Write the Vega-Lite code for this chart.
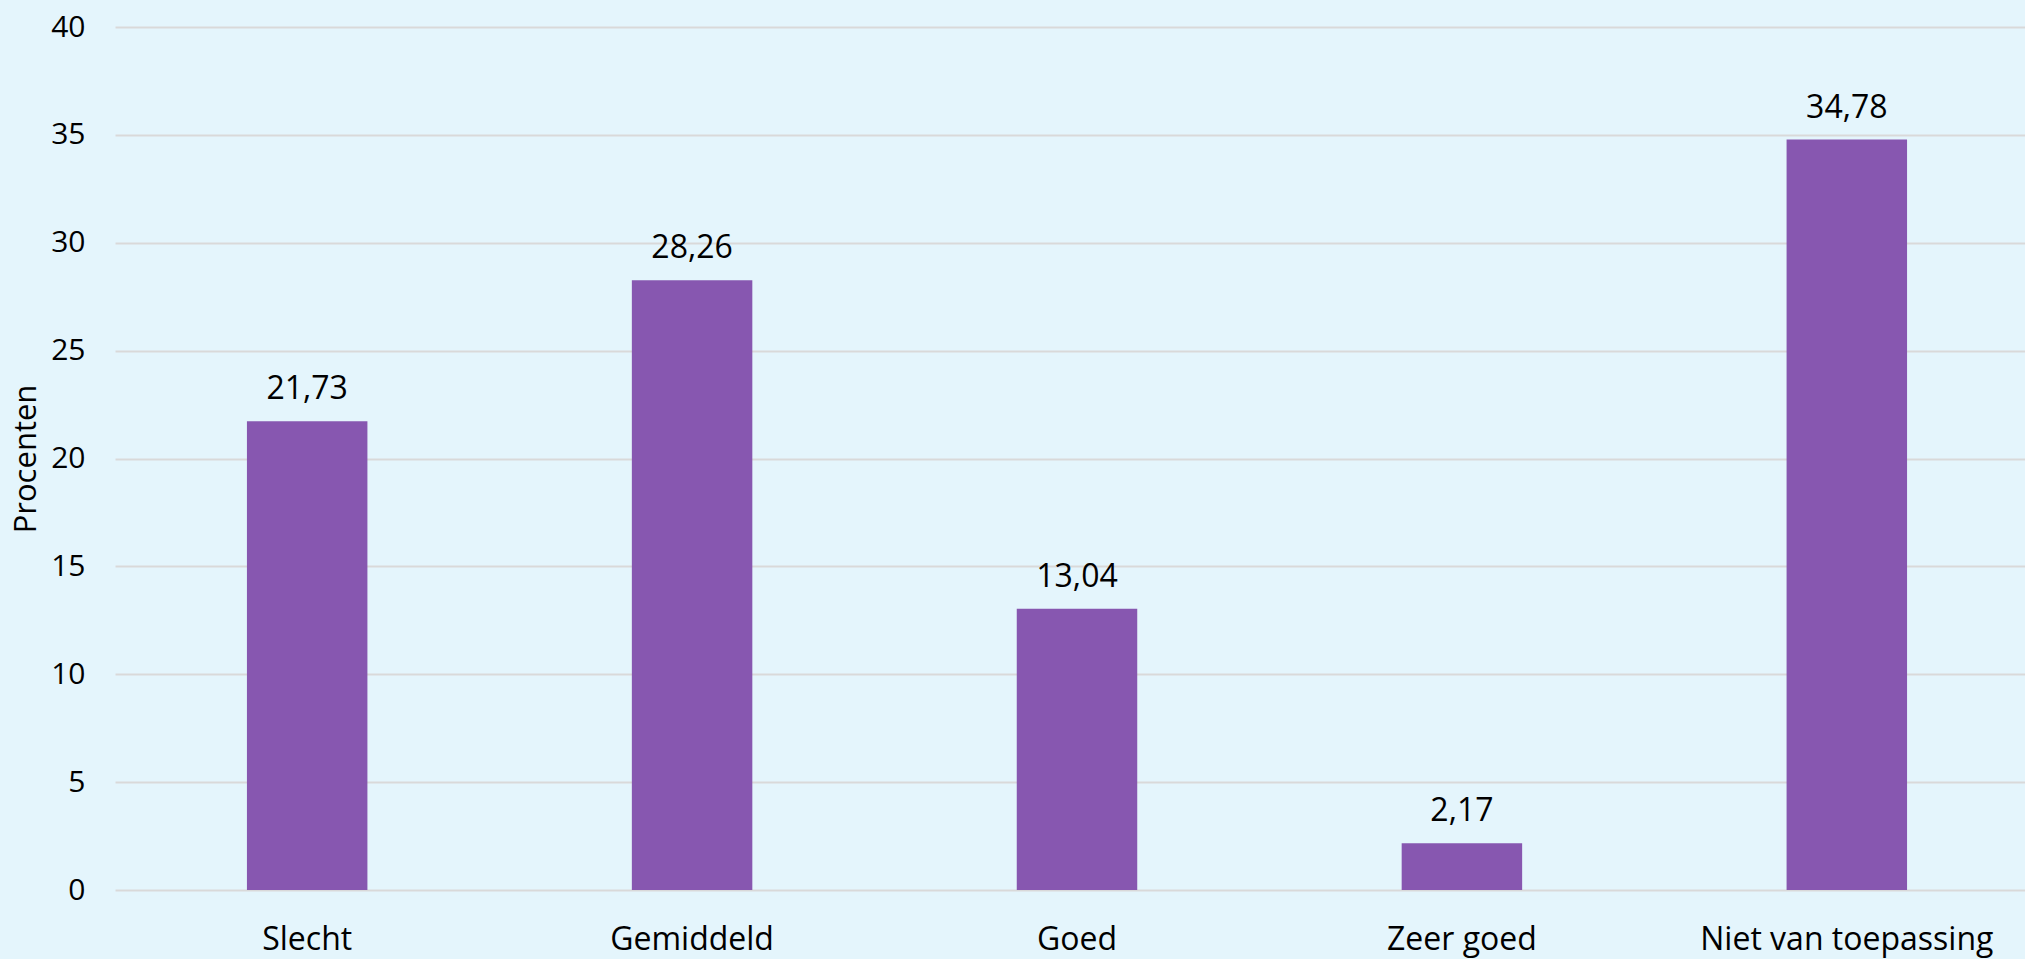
{
  "$schema": "https://vega.github.io/schema/vega-lite/v6.json",
  "width": 1910,
  "height": 863,
  "autosize": {"type": "none"},
  "padding": {"left": 115, "top": 27, "right": 0, "bottom": 69},
  "background": "#E4F5FC",
  "config": {
    "view": {"stroke": null},
    "font": "Open Sans",
    "locale": {"number": {"decimal": ",", "thousands": ".", "grouping": [3], "currency": ["€", ""]}}
  },
  "data": {
    "values": [
      {"categorie": "Slecht", "procent": 21.73},
      {"categorie": "Gemiddeld", "procent": 28.26},
      {"categorie": "Goed", "procent": 13.04},
      {"categorie": "Zeer goed", "procent": 2.17},
      {"categorie": "Niet van toepassing", "procent": 34.78}
    ]
  },
  "encoding": {
    "x": {
      "field": "categorie",
      "type": "nominal",
      "sort": null,
      "scale": {"paddingInner": 0.687, "paddingOuter": 0.3246, "align": 0.528},
      "axis": {
        "title": null,
        "labelAngle": 0,
        "labelFontSize": 32,
        "labelColor": "#000000",
        "labelPadding": 34,
        "labelBaseline": "top",
        "labelLimit": 0,
        "labelOverlap": false,
        "ticks": false,
        "domain": false
      }
    },
    "y": {
      "field": "procent",
      "type": "quantitative",
      "scale": {"domain": [0, 40]},
      "axis": {
        "title": "Procenten",
        "titleFontSize": 31,
        "titleFontWeight": "normal",
        "titleColor": "#000000",
        "titleAngle": 270,
        "titleBaseline": "alphabetic",
        "titleX": -80,
        "titleY": 431.5,
        "titleAlign": "center",
        "values": [0, 5, 10, 15, 20, 25, 30, 35, 40],
        "labelFontSize": 30,
        "labelColor": "#000000",
        "labelPadding": 30,
        "ticks": false,
        "domain": false,
        "grid": true,
        "gridColor": "#D9D9D9",
        "gridWidth": 2
      }
    }
  },
  "layer": [
    {"mark": {"type": "bar", "color": "#8757B0"}},
    {
      "mark": {"type": "text", "dy": -22, "baseline": "alphabetic", "fontSize": 32, "color": "#000000"},
      "encoding": {"text": {"field": "procent", "type": "quantitative", "format": ".2f"}}
    }
  ]
}
